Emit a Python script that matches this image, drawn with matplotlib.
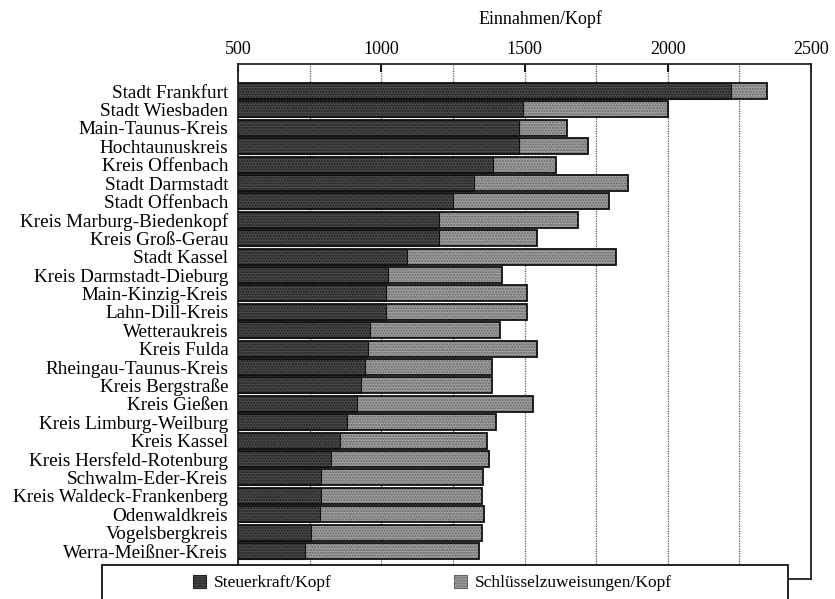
import matplotlib
matplotlib.use("Agg")
import matplotlib.pyplot as plt
from matplotlib.patches import Rectangle, Patch
from matplotlib.ticker import MultipleLocator
import numpy as np

plt.rcParams['font.family'] = ['Liberation Serif', 'DejaVu Serif']

kreise = [
    "Stadt Frankfurt", "Stadt Wiesbaden", "Main-Taunus-Kreis", "Hochtaunuskreis",
    "Kreis Offenbach", "Stadt Darmstadt", "Stadt Offenbach", "Kreis Marburg-Biedenkopf",
    "Kreis Groß-Gerau", "Stadt Kassel", "Kreis Darmstadt-Dieburg", "Main-Kinzig-Kreis",
    "Lahn-Dill-Kreis", "Wetteraukreis", "Kreis Fulda", "Rheingau-Taunus-Kreis",
    "Kreis Bergstraße", "Kreis Gießen", "Kreis Limburg-Weilburg", "Kreis Kassel",
    "Kreis Hersfeld-Rotenburg", "Schwalm-Eder-Kreis", "Kreis Waldeck-Frankenberg",
    "Odenwaldkreis", "Vogelsbergkreis", "Werra-Meißner-Kreis",
]
steuerkraft = [2220, 1495, 1480, 1480, 1390, 1325, 1250, 1200, 1200, 1090,
               1025, 1015, 1015, 960, 955, 945, 930, 915, 880, 855,
               825, 790, 790, 785, 755, 735]
schluesselzuweisungen = [125, 505, 170, 240, 220, 535, 545, 485, 345, 730,
                         395, 495, 495, 455, 590, 440, 455, 615, 520, 515,
                         550, 565, 560, 575, 595, 605]
x_ticks = [500, 1000, 1500, 2000, 2500]
series_labels = ["Steuerkraft/Kopf", "Schlüsselzuweisungen/Kopf"]

W, H = 835, 599
fig = plt.figure(figsize=(W / 100, H / 100), dpi=100)
ax = fig.add_axes([238 / W, 1 - 579 / H, 573 / W, 515 / H])

y = np.arange(len(kreise))
s = np.array(steuerkraft)
z = np.array(schluesselzuweisungen)

dark_face, dark_hatch = "#4a4a4a", "#1e1e1e"
light_face, light_hatch = "#a0a0a0", "#666666"
bh = 0.87

ax.barh(y, s, height=bh, color=dark_face, edgecolor=dark_hatch, hatch="......", linewidth=0, zorder=2)
ax.barh(y, z, left=s, height=bh, color=light_face, edgecolor=light_hatch, hatch="......", linewidth=0, zorder=2)
ax.barh(y, s + z, height=bh, fill=False, edgecolor="#111111", linewidth=1.3, zorder=3)
ax.barh(y, s, height=bh, fill=False, edgecolor="#111111", linewidth=0.8, zorder=3)

ax.set_xlim(500, 2500)
ax.set_ylim(25 + 28 / 18.4, -27 / 18.4)
ax.set_yticks(y)
ax.set_yticklabels(kreise, fontsize=13.8)
ax.tick_params(axis='y', length=0, pad=7)

ax.xaxis.tick_top()
ax.xaxis.set_label_position('top')
ax.set_xticks(x_ticks)
ax.set_xticklabels([str(v) for v in x_ticks], fontsize=13)
ax.xaxis.set_minor_locator(MultipleLocator(250))
ax.tick_params(axis='x', which='major', direction='in', length=6, width=1.3, pad=4, top=True, bottom=False)
ax.tick_params(axis='x', which='minor', length=0, top=False, bottom=False)
ax.grid(axis='x', which='both', linestyle=(0, (1, 1)), color="#555555", linewidth=0.9, zorder=1)
ax.set_axisbelow(True)
ax.set_xlabel("Einnahmen/Kopf", fontsize=13)
ax.xaxis.set_label_coords(0.527, 1.078)

for sp in ax.spines.values():
    sp.set_linewidth(1.3)
    sp.set_color("#222222")

# legend box (extends below figure edge)
box = Rectangle((102 / W, -0.05), (788 - 102) / W, 0.05 + 1 - 565 / H,
                transform=fig.transFigure, facecolor="white", edgecolor="#111111",
                linewidth=1.3, zorder=5, clip_on=False)
fig.add_artist(box)

h1 = Patch(facecolor=dark_face, edgecolor=dark_hatch, hatch="......", linewidth=0.8)
h2 = Patch(facecolor=light_face, edgecolor=light_hatch, hatch="......", linewidth=0.8)
leg1 = fig.legend([h1], [series_labels[0]], loc='center left', bbox_to_anchor=(193 / W, 1 - 583 / H),
                  frameon=False, fontsize=12.5, handlelength=0.75, handleheight=0.75, handletextpad=0.45,
                  borderpad=0, borderaxespad=0)
leg2 = fig.legend([h2], [series_labels[1]], loc='center left', bbox_to_anchor=(454 / W, 1 - 583 / H),
                  frameon=False, fontsize=12.5, handlelength=0.75, handleheight=0.75, handletextpad=0.45,
                  borderpad=0, borderaxespad=0)
leg1.set_zorder(6)
leg2.set_zorder(6)

fig.savefig("out.png", dpi=100)
